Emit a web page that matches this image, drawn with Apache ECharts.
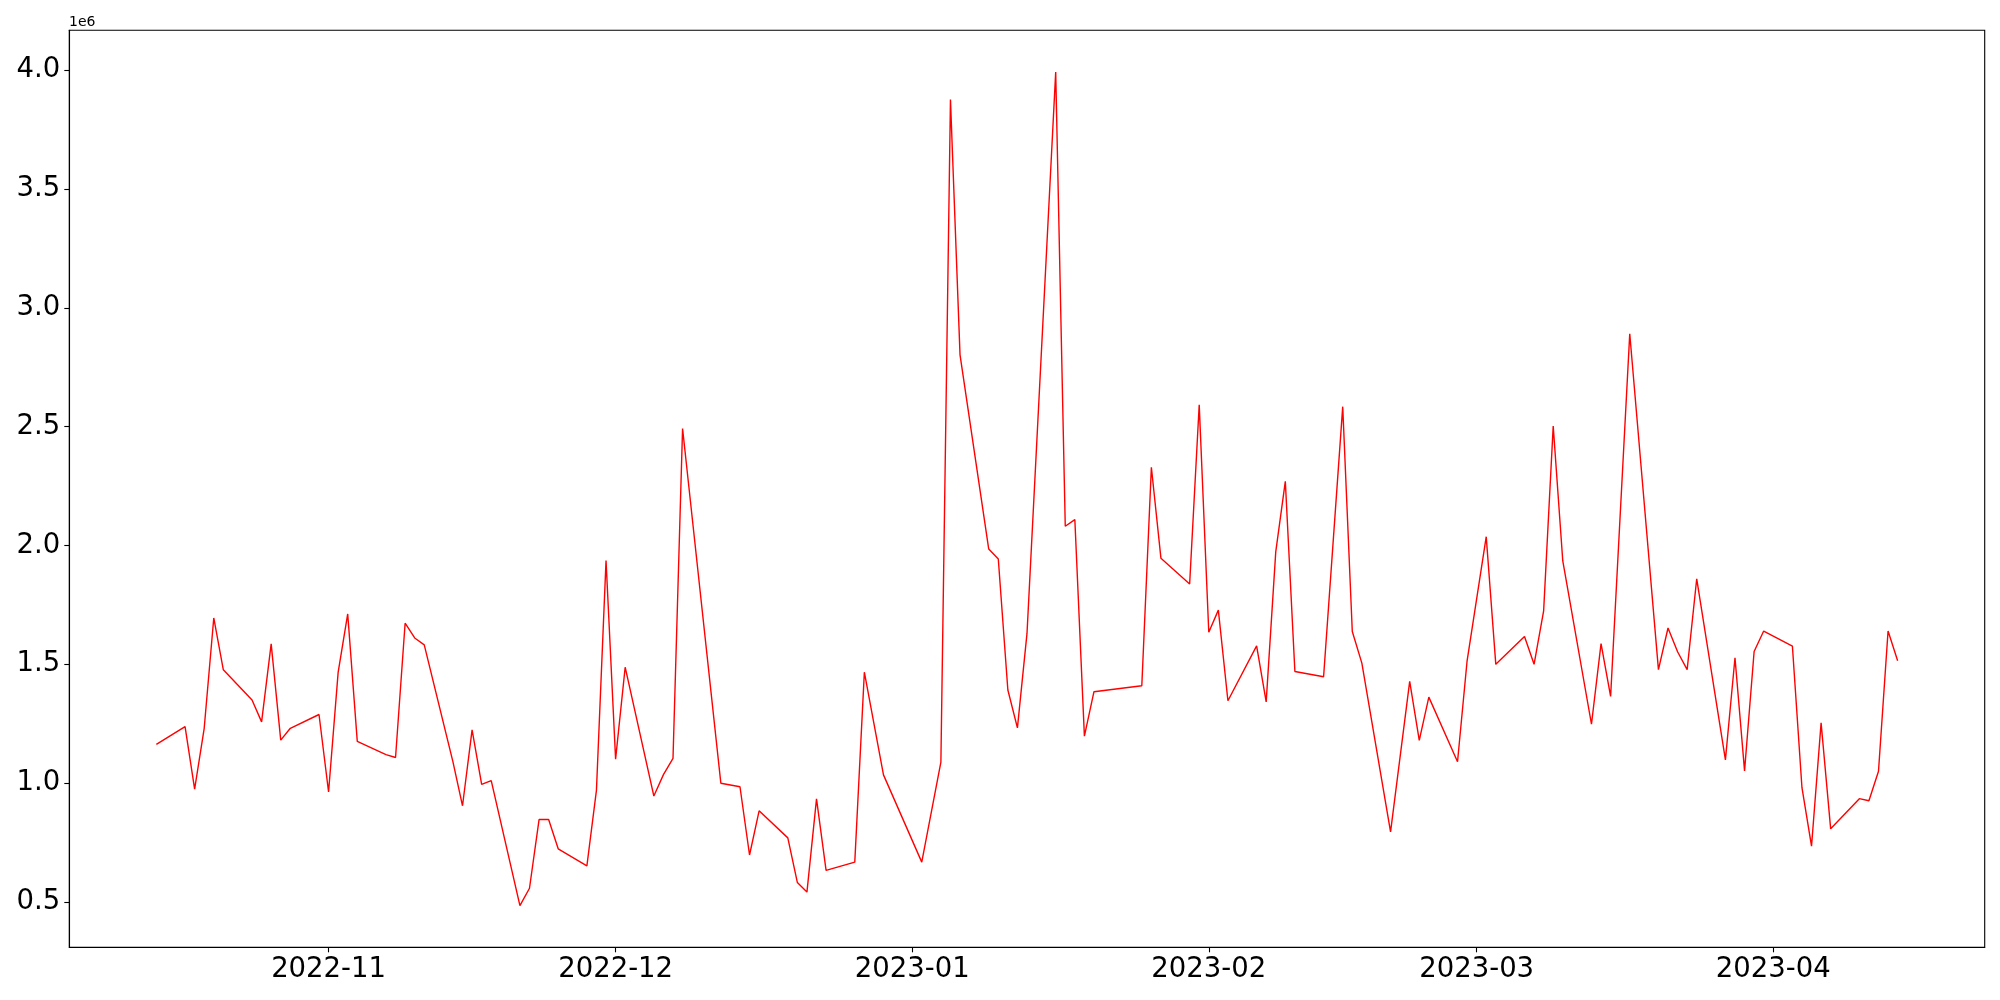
<!DOCTYPE html>
<html>
<head>
<meta charset="utf-8">
<script src="https://cdn.jsdelivr.net/npm/echarts@6/dist/echarts.min.js"></script>
<style>
html,body{margin:0;padding:0;background:#fff;}
#chart{width:2000px;height:1000px;}
</style>
</head>
<body>
<div id="chart"></div>
<script>
// ---- data ----
const dates = [
"2022-10-14","2022-10-17","2022-10-18","2022-10-19","2022-10-20","2022-10-21",
"2022-10-24","2022-10-25","2022-10-26","2022-10-27","2022-10-28",
"2022-10-31","2022-11-01","2022-11-02","2022-11-03","2022-11-04",
"2022-11-07","2022-11-08","2022-11-09","2022-11-10","2022-11-11",
"2022-11-14","2022-11-15","2022-11-16","2022-11-17","2022-11-18",
"2022-11-21","2022-11-22","2022-11-23","2022-11-24","2022-11-25",
"2022-11-28","2022-11-29","2022-11-30","2022-12-01","2022-12-02",
"2022-12-05","2022-12-06","2022-12-07","2022-12-08",
"2022-12-12","2022-12-14","2022-12-15","2022-12-16",
"2022-12-19","2022-12-20","2022-12-21","2022-12-22","2022-12-23",
"2022-12-26","2022-12-27","2022-12-29",
"2023-01-02","2023-01-04","2023-01-05","2023-01-06",
"2023-01-09","2023-01-10","2023-01-11","2023-01-12","2023-01-13",
"2023-01-16","2023-01-17","2023-01-18","2023-01-19","2023-01-20",
"2023-01-25","2023-01-26","2023-01-27",
"2023-01-30","2023-01-31","2023-02-01","2023-02-02","2023-02-03",
"2023-02-06","2023-02-07","2023-02-08","2023-02-09","2023-02-10",
"2023-02-13","2023-02-15","2023-02-16","2023-02-17",
"2023-02-20","2023-02-22","2023-02-23","2023-02-24",
"2023-02-27","2023-02-28","2023-03-02","2023-03-03",
"2023-03-06","2023-03-07","2023-03-08","2023-03-09","2023-03-10",
"2023-03-13","2023-03-14","2023-03-15","2023-03-17",
"2023-03-20","2023-03-21","2023-03-22","2023-03-23","2023-03-24",
"2023-03-27","2023-03-28","2023-03-29","2023-03-30","2023-03-31",
"2023-04-03","2023-04-04","2023-04-05","2023-04-06","2023-04-07",
"2023-04-10","2023-04-11","2023-04-12","2023-04-13","2023-04-14"
];
const values = [
1163000,1238000,975000,1231000,1695000,1477000,
1350000,1258000,1586000,1181000,1231000,
1289000,963000,1466000,1712000,1176000,
1120000,1108000,1673000,1611000,1582000,
1090000,905000,1224000,995000,1011000,
485000,558000,847000,847000,724000,
652000,971000,1937000,1101000,1488000,
946000,1036000,1104000,2492000,
1000000,985000,698000,884000,
770000,582000,542000,934000,633000,
668000,1467000,1035000,
668000,1089000,3876000,2802000,
1985000,1943000,1392000,1233000,1630000,
3992000,2081000,2109000,1198000,1385000,
1410000,2329000,1946000,
1838000,2592000,1635000,1728000,1347000,
1578000,1342000,1973000,2270000,1470000,
1448000,2584000,1638000,1505000,
795000,1428000,1180000,1362000,
1090000,1515000,2037000,1500000,
1617000,1500000,1725000,2503000,1935000,
1248000,1587000,1365000,2891000,
1478000,1653000,1553000,1478000,1860000,
1098000,1528000,1052000,1554000,1640000,
1577000,981000,735000,1254000,808000,
935000,926000,1050000,1640000,1515000
];
const yTicks = [500000,1000000,1500000,2000000,2500000,3000000,3500000,4000000];
const xTickLabels = ["2022-11","2022-12","2023-01","2023-02","2023-03","2023-04"];
const seriesColor = "#ff0000";

// ---- build ----
function toTs(s){ const p = s.split("-").map(Number); return Date.UTC(p[0], p[1]-1, p[2] || 1); }
const points = dates.map((d,i)=>[toTs(d), values[i]]);
const xTicks = xTickLabels.map(toTs);

const tMin = points[0][0], tMax = points[points.length-1][0];
const tPad = (tMax - tMin) * 0.05;
const vMin = Math.min(...values), vMax = Math.max(...values);
const vPad = (vMax - vMin) * 0.05;

function fmtMonth(v){
  const d = new Date(v);
  const m = d.getUTCMonth()+1;
  return d.getUTCFullYear() + "-" + (m<10?"0":"") + m;
}

const FONT = "DejaVu Sans";
const chart = echarts.init(document.getElementById("chart"), null, {renderer:"canvas"});
chart.setOption({
  animation:false,
  backgroundColor:"#ffffff",
  grid:{left:69.3, right:15.3, top:30.3, bottom:52.7, show:true, borderColor:"#000", borderWidth:1.1, backgroundColor:"#fff", containLabel:false},
  xAxis:{
    type:"value",
    scale:true,
    min:tMin - tPad, max:tMax + tPad,
    axisLine:{show:true, onZero:false, lineStyle:{color:"#000", width:1.1}},
    axisTick:{show:true, inside:false, length:5, lineStyle:{color:"#000", width:1.1}, customValues:xTicks},
    axisLabel:{show:true, color:"#000", fontFamily:FONT, fontSize:27.5, margin:9, customValues:xTicks,
      showMinLabel:true, showMaxLabel:true, hideOverlap:false,
      formatter:function(v){ return fmtMonth(v); }},
    splitLine:{show:false}
  },
  yAxis:{
    type:"value",
    scale:true,
    min:vMin - vPad, max:vMax + vPad,
    axisLine:{show:true, onZero:false, lineStyle:{color:"#000", width:1.1}},
    axisTick:{show:true, inside:false, length:5, lineStyle:{color:"#000", width:1.1}, customValues:yTicks},
    axisLabel:{show:true, color:"#000", fontFamily:FONT, fontSize:27.5, margin:9, customValues:yTicks,
      showMinLabel:true, showMaxLabel:true, hideOverlap:false,
      formatter:function(v){ return (v/1e6).toFixed(1); }},
    splitLine:{show:false}
  },
  graphic:[{type:"text", left:69, top:15, style:{text:"1e6", fontFamily:FONT, fontSize:14, fill:"#000"}}],
  series:[{
    type:"line",
    data:points,
    showSymbol:false,
    symbol:"none",
    lineStyle:{color:seriesColor, width:1.4},
    itemStyle:{color:seriesColor}
  }]
});
</script>
</body>
</html>
